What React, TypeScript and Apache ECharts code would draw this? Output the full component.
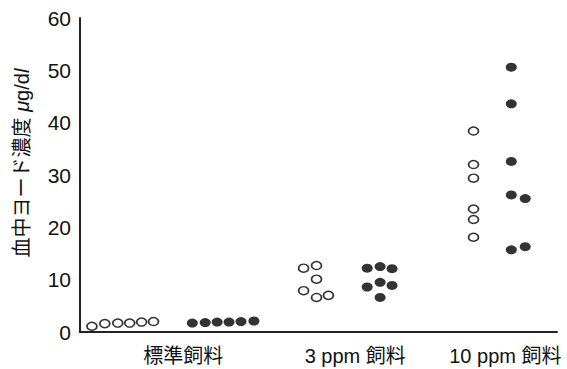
import React, { useEffect, useRef } from "react";
import * as echarts from "echarts";

const categories = ["標準飼料", "3 ppm 飼料", "10 ppm 飼料"];
const categoryCenters = [10.4, 27.7, 42.8];
const yTicks = [0, 10, 20, 30, 40, 50, 60];

// open circles (control group)
const openX = [1.2, 2.5, 3.8, 5.0, 6.2, 7.4, 22.5, 23.8, 23.8, 22.5, 23.8, 25.0, 39.6, 39.6, 39.6, 39.6, 39.6, 39.6];
const openY = [1.1, 1.6, 1.7, 1.7, 1.9, 2.0, 12.2, 12.7, 10.1, 7.9, 6.6, 7.0, 38.4, 32.0, 29.4, 23.5, 21.5, 18.1];
// filled circles
const filledX = [11.3, 12.6, 13.8, 15.0, 16.2, 17.5, 28.9, 30.2, 31.4, 28.9, 30.2, 31.4, 30.2, 43.4, 43.4, 43.4, 43.4, 44.8, 43.4, 44.8];
const filledY = [1.7, 1.8, 1.9, 1.9, 2.0, 2.1, 12.2, 12.5, 12.1, 8.6, 9.5, 8.9, 6.6, 50.6, 43.6, 32.6, 26.2, 25.5, 15.7, 16.3];

const FONT = "'Liberation Sans', Arial, Helvetica, 'Noto Sans CJK JP', sans-serif";

export default function App() {
  const ref = useRef<HTMLDivElement>(null);
  useEffect(() => {
    if (!ref.current) return;
    const chart = echarts.init(ref.current, undefined, { renderer: "svg" });
    chart.setOption({
      animation: false,
      backgroundColor: "#ffffff",
      grid: { left: 80, right: 10, top: 18, bottom: 37 },
      xAxis: {
        type: "value",
        min: 0,
        max: 48,
        splitLine: { show: false },
        axisLine: { show: true, lineStyle: { color: "#222", width: 2 } },
        axisTick: { show: false },
        axisLabel: {
          show: true,
          customValues: categoryCenters,
          formatter: (v: number) => {
            const i = categoryCenters.findIndex((c) => Math.abs(c - v) < 0.01);
            return i >= 0 ? categories[i] : "";
          },
          fontSize: 20,
          color: "#111",
          fontFamily: FONT,
          margin: 14,
        },
      },
      yAxis: {
        type: "value",
        min: 0,
        max: 60,
        interval: 10,
        splitLine: { show: false },
        axisLine: { show: true, lineStyle: { color: "#222", width: 2 } },
        axisTick: { show: false },
        axisLabel: {
          fontSize: 21,
          color: "#111",
          fontFamily: FONT,
          margin: 9,
          padding: [12, 0, 0, 0],
          formatter: (v: number) => (yTicks.includes(v) ? String(v) : ""),
        },
      },
      graphic: [
        {
          type: "text",
          x: 22,
          y: 163,
          rotation: Math.PI / 2,
          style: {
            text: "血中ヨード濃度 {i|μ}g/d{i|l}",
            fontSize: 20,
            fontFamily: FONT,
            fill: "#111",
            align: "center",
            verticalAlign: "middle",
            rich: {
              i: { fontSize: 20, fontStyle: "italic", fontFamily: FONT, fill: "#111" },
            },
          },
        },
      ],
      series: [
        {
          type: "scatter",
          data: openX.map((x, i) => [x, openY[i]]),
          symbol: "circle",
          symbolSize: [10, 8],
          itemStyle: { color: "#fff", borderColor: "#000", borderWidth: 1.6 },
        },
        {
          type: "scatter",
          data: filledX.map((x, i) => [x, filledY[i]]),
          symbol: "circle",
          symbolSize: [11, 9],
          itemStyle: { color: "#000" },
        },
      ],
    });
    return () => chart.dispose();
  }, []);
  return <div ref={ref} style={{ width: 567, height: 369, position: "absolute", left: 0, top: 0 }} />;
}
